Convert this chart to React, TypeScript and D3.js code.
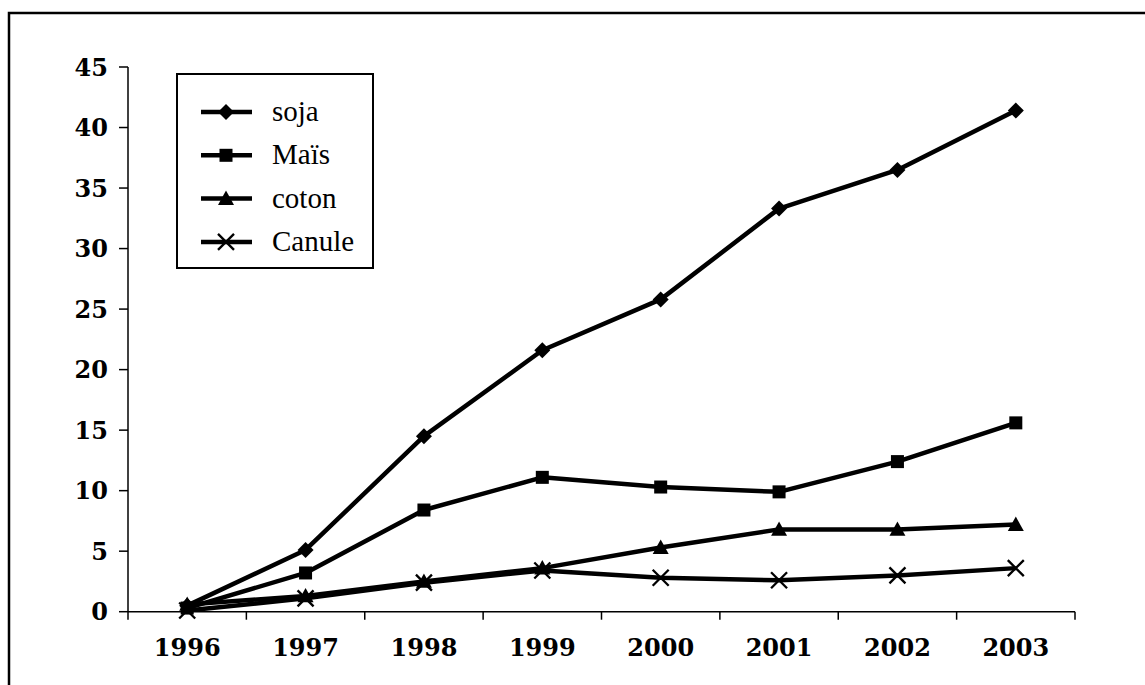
import React from "react";
import * as d3 from "d3";

const years = ["1996", "1997", "1998", "1999", "2000", "2001", "2002", "2003"];
const soja = [0.5, 5.1, 14.5, 21.6, 25.8, 33.3, 36.5, 41.4];
const mais = [0.3, 3.2, 8.4, 11.1, 10.3, 9.9, 12.4, 15.6];
const coton = [0.6, 1.3, 2.5, 3.6, 5.3, 6.8, 6.8, 7.2];
const canule = [0.1, 1.1, 2.4, 3.4, 2.8, 2.6, 3.0, 3.6];
const yTicks = [0, 5, 10, 15, 20, 25, 30, 35, 40, 45];

const seriesNames = ["soja", "Maïs", "coton", "Canule"];
const seriesValues = [soja, mais, coton, canule];
const seriesMarkers = ["diamond", "square", "triangle", "x"];

const W = 1145;
const H = 685;

function Marker({ kind, x, y }: { kind: string; x: number; y: number }) {
  if (kind === "diamond") {
    const r = 8;
    return <path d={`M${x},${y - r}L${x + r},${y}L${x},${y + r}L${x - r},${y}Z`} fill="#000" />;
  }
  if (kind === "square") {
    const s = 6.5;
    return <rect x={x - s} y={y - s} width={2 * s} height={2 * s} fill="#000" />;
  }
  if (kind === "triangle") {
    const s = 8;
    return <path d={`M${x},${y - s}L${x + s},${y + s * 0.8}L${x - s},${y + s * 0.8}Z`} fill="#000" />;
  }
  const r = 8;
  return (
    <path
      d={`M${x - r},${y - r}L${x + r},${y + r}M${x - r},${y + r}L${x + r},${y - r}`}
      stroke="#000"
      strokeWidth={2.3}
      fill="none"
    />
  );
}

export default function App() {
  const x = d3.scaleBand<string>().domain(years).range([128, 1075]).padding(0);
  const y = d3.scaleLinear().domain([0, 45]).range([611.7, 67]);
  const cx = (yr: string) => (x(yr) as number) + x.bandwidth() / 2;
  const line = d3
    .line<number>()
    .x((_, i) => cx(years[i]))
    .y((v) => y(v));

  const bounds = [...years.map((yr) => x(yr) as number), 1075];
  const legendX = 177;
  const legendY = 74;

  return (
    <svg
      width={W}
      height={H}
      style={{ position: "absolute", left: 0, top: 0, background: "#fff" }}
    >
      <rect x={0} y={0} width={W} height={H} fill="#fff" />
      <rect x={9} y={13} width={W + 20} height={H + 20} fill="none" stroke="#000" strokeWidth={2.5} />

      {/* y axis */}
      <line x1={128} x2={128} y1={y(45)} y2={y(0)} stroke="#000" strokeWidth={1.5} />
      {yTicks.map((t) => (
        <g key={t}>
          <line x1={119} x2={128} y1={y(t)} y2={y(t)} stroke="#000" strokeWidth={1.5} />
          <text
            x={108}
            y={y(t)}
            dy="0.36em"
            textAnchor="end"
            fontFamily="DejaVu Serif"
            fontWeight="bold"
            fontSize={24}
            fill="#000"
          >
            {t}
          </text>
        </g>
      ))}

      {/* x axis */}
      <line x1={128} x2={1075} y1={y(0)} y2={y(0)} stroke="#000" strokeWidth={1.5} />
      {bounds.map((b, i) => (
        <line key={i} x1={b} x2={b} y1={y(0)} y2={y(0) + 8} stroke="#000" strokeWidth={1.5} />
      ))}
      {years.map((yr) => (
        <text
          key={yr}
          x={cx(yr)}
          y={656}
          textAnchor="middle"
          fontFamily="DejaVu Serif"
          fontWeight="bold"
          fontSize={24}
          fill="#000"
        >
          {yr}
        </text>
      ))}

      {/* series */}
      {seriesValues.map((vals, si) => (
        <g key={si}>
          <path d={line(vals) as string} fill="none" stroke="#000" strokeWidth={4.5} strokeLinejoin="round" />
          {vals.map((v, i) => (
            <Marker key={i} kind={seriesMarkers[si]} x={cx(years[i])} y={y(v)} />
          ))}
        </g>
      ))}

      {/* legend */}
      <rect x={legendX} y={legendY} width={196} height={194} fill="#fff" stroke="#000" strokeWidth={2} />
      {seriesNames.map((name, i) => {
        const ry = 112 + i * 43.3;
        return (
          <g key={name}>
            <line x1={201} x2={252} y1={ry} y2={ry} stroke="#000" strokeWidth={4.5} />
            <Marker kind={seriesMarkers[i]} x={226} y={ry} />
            <text x={272} y={ry + 9} fontFamily="Liberation Serif" fontSize={29} fill="#000">
              {name}
            </text>
          </g>
        );
      })}
    </svg>
  );
}
